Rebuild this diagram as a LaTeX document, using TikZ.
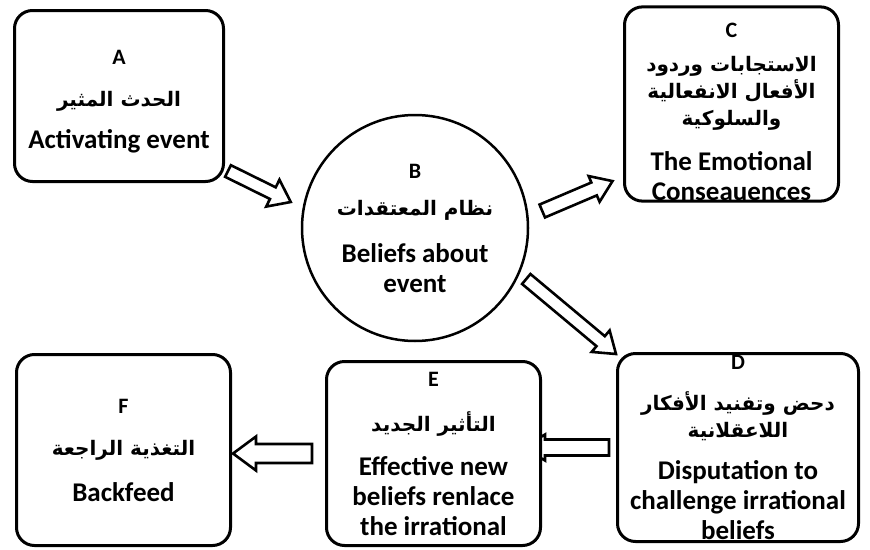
\documentclass[tikz,border=0pt]{standalone}
\usepackage{fontspec}
\setmainfont{Carlito}
\newfontfamily\arfont[Script=Arabic]{DejaVu Sans}
\TeXXeTstate=1
\usetikzlibrary{calc,backgrounds}

% arabic line and the small letter on top of each box
\newcommand\arline[1]{{\arfont\fontsize{20}{27}\selectfont\beginR #1\endR}}
\newcommand\lbl[1]{{\fontsize{22}{24}\selectfont #1}}

% hollow block arrow: start, tip, half bar width, half head width, head length
\newcommand\blockarrow[5]{%
  \coordinate (ba-s) at (#1);
  \coordinate (ba-t) at (#2);
  \coordinate (ba-h) at ($(ba-t)!#5!(ba-s)$);
  \draw[hollowarrow] ($(ba-s)!#3!90:(ba-t)$) -- ($(ba-h)!#3!90:(ba-t)$)
    -- ($(ba-h)!#4!90:(ba-t)$) -- (ba-t) -- ($(ba-h)!#4!-90:(ba-t)$)
    -- ($(ba-h)!#3!-90:(ba-t)$) -- ($(ba-s)!#3!-90:(ba-t)$) -- cycle;
}

\tikzset{
  box/.style={draw, line width=3pt, rounded corners=18pt, fill=white, align=center, inner sep=0pt},
  hollowarrow/.style={draw, line width=2.6pt, fill=white, line join=miter},
}

\begin{document}
\begin{tikzpicture}[x=1pt, y=-1pt, font=\fontsize{27}{30}\selectfont\bfseries]
  \useasboundingbox (0,0) rectangle (870,549);

  % boxes
  \node[box, minimum width=209pt, minimum height=171pt] (A) at (119,96)
    {\rule{0pt}{26pt}\lbl{A}\\[12pt]\arline{الحدث المثير}\\[12pt]Activating event};
  \node[draw, circle, line width=2.5pt, fill=white, align=center, inner sep=0pt, minimum size=226pt] (B) at (415,228)
    {\lbl{B}\\[7pt]\arline{نظام المعتقدات}\\[17pt]Beliefs about\\event};
  \node[box, minimum width=214pt, minimum height=189pt] (C) at (731.5,104)
    {\rule{0pt}{31pt}\lbl{C}\\[4pt]\arline{الاستجابات وردود}\\[-3pt]\arline{الأفعال الانفعالية}\\[-3pt]\arline{والسلوكية}\\[15pt]The Emotional\\Conseauences};
  \node[box, minimum width=241pt, minimum height=188pt] (D) at (738,447.5)
    {\lbl{D}\\[11pt]\arline{دحض وتفنيد الأفكار}\\[-3pt]\arline{اللاعقلانية}\\[12pt]Disputation to\\challenge irrational\\beliefs};
  \node[box, minimum width=214pt, minimum height=184pt] (E) at (433.5,453.5)
    {\lbl{E}\\[15pt]\arline{التأثير الجديد}\\[14pt]Effective new\\beliefs renlace\\the irrational};
  \node[box, minimum width=214pt, minimum height=191pt] (F) at (123.5,450)
    {\lbl{F}\\[12pt]\arline{التغذية الراجعة}\\[16pt]Backfeed};

  % arrows behind the boxes
  \begin{pgfonlayer}{background}
    \blockarrow{$(A.south east)+(3,-12)$}{$(B.west)+(-10,-26)$}{6.5pt}{15pt}{20pt}
    \blockarrow{$(B.east)+(13,-17)$}{$(C.south west)+(-10.5,-21.5)$}{7pt}{14pt}{20pt}
    \blockarrow{$(B.east)+(-3,51)$}{$(D.north west)+(0,2)$}{6.5pt}{14pt}{20pt}
    \blockarrow{$(D.west)+(-7,0)$}{$(E.east)+(-19,-6)$}{8pt}{13pt}{22pt}
    \blockarrow{$(E.west)+(-13,0)$}{$(F.east|-E.west)+(1,0)$}{9.5pt}{17pt}{23pt}
  \end{pgfonlayer}
\end{tikzpicture}
\end{document}
